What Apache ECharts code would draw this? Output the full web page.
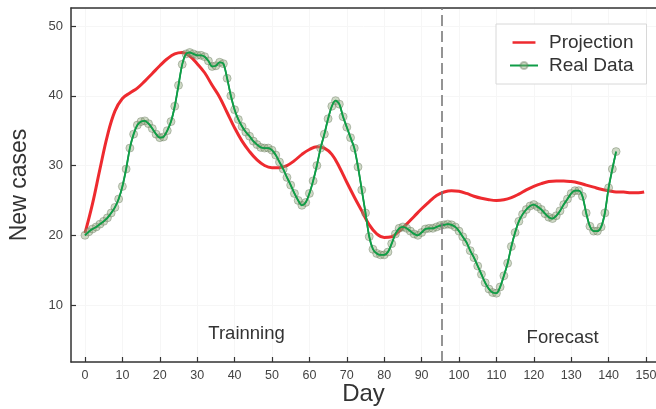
<!DOCTYPE html>
<html>
<head>
<meta charset="utf-8">
<script src="https://cdn.jsdelivr.net/npm/echarts@6/dist/echarts.min.js"></script>
<style>
html,body{margin:0;padding:0;background:#fff;}
#chart{width:656px;height:409px;}
</style>
</head>
<body>
<div id="chart"></div>
<script>
// Real data: one value per day, starting at day 0
var realValues = [
  20.0, 20.5, 20.9, 21.2, 21.6, 22.0, 22.5, 23.2, 24.0, 25.2,
  27.0, 29.5, 32.5, 34.5, 35.8, 36.3, 36.4, 36.0, 35.3, 34.5,
  34.0, 34.1, 35.0, 36.3, 38.5, 41.5, 44.5, 46.0, 46.2, 46.0,
  45.8, 45.8, 45.6, 45.0, 44.2, 44.3, 44.8, 44.6, 42.5, 40.0,
  38.0, 36.6, 35.6, 34.8, 34.2, 33.5, 33.0, 32.6, 32.5, 32.5,
  32.2, 31.5, 30.5, 29.5, 28.3, 27.2, 26.0, 25.0, 24.3, 24.7,
  26.0, 27.8, 30.0, 32.5, 34.5, 36.7, 38.5, 39.3, 38.8, 37.0,
  35.5, 34.0, 32.5, 29.8, 26.5, 23.2, 19.8, 18.0, 17.4, 17.2,
  17.2, 17.6, 18.8, 20.2, 21.0, 21.2, 21.0, 20.6, 20.2, 20.0,
  20.4, 20.9, 21.0, 21.0, 21.2, 21.4, 21.5, 21.6, 21.5, 21.2,
  20.6, 19.8, 19.0, 17.8, 16.8, 15.6, 14.4, 13.2, 12.3, 11.8,
  11.7, 12.6, 14.2, 16.0, 18.4, 20.4, 22.0, 23.0, 23.7, 24.2,
  24.4, 24.1, 23.7, 23.1, 22.6, 22.4, 22.8, 23.5, 24.4, 25.2,
  26.0, 26.4, 26.4, 25.6, 23.2, 21.3, 20.6, 20.6, 21.2, 23.2,
  26.8, 29.5, 32.0
];
var realStartDay = 0;

// Projection curve
var projDays = [0,2,4,6,8,10,12,14,16,18,20,22,24,26,28,30,32,34,36,38,40,42,44,46,48,50,52,54,56,58,60,62,64,66,68,70,72,74,76,78,80,82,84,86,88,90,92,94,96,98,100,102,104,106,108,110,112,114,116,118,120,122,124,126,128,130,132,134,136,138,140,142,144,146,148,149.5];
var projValues = [20.3,24.5,29.5,34.3,37.8,39.6,40.4,41.1,42.1,43.2,44.3,45.3,46.0,46.2,45.7,44.6,43.3,41.5,39.8,37.6,35.4,33.5,32.0,30.8,30.0,29.7,29.7,30.0,30.7,31.6,32.3,32.7,32.5,31.6,29.8,27.6,25.5,23.5,21.5,20.2,19.7,19.8,20.6,21.6,22.7,23.8,24.8,25.7,26.2,26.4,26.3,26.0,25.6,25.3,25.1,25.0,25.1,25.4,25.9,26.5,27.0,27.4,27.7,27.8,27.8,27.7,27.5,27.2,26.9,26.6,26.4,26.2,26.2,26.1,26.1,26.2];

var seriesNames = ['Projection', 'Real Data'];
var xLabel = 'Day';
var yLabel = 'New cases';
var splitDay = 95.5;
var phaseLabels = ['Trainning', 'Forecast'];

var realData = realValues.map(function (v, i) { return [realStartDay + i, v]; });
var projData = projDays.map(function (d, i) { return [d, projValues[i]]; });

var FONT = '"Liberation Sans", Arial, sans-serif';
var chart = echarts.init(document.getElementById('chart'), null, {renderer: 'canvas'});

var option = {
  animation: false,
  backgroundColor: '#ffffff',
  textStyle: {fontFamily: FONT},
  grid: {left: 71, right: 0, top: 8, bottom: 47, outerBoundsMode: 'none', containLabel: false},
  legend: {
    data: [
      {name: seriesNames[0], icon: 'path://M0,0L28,0L28,0.01Z M0,4L28,4L28,7L0,7Z M0,11L28,11L28,10.99Z'},
      {name: seriesNames[1]}
    ],
    orient: 'vertical',
    left: 496,
    top: 24,
    padding: [9, 13, 9, 13],
    itemGap: 4,
    itemWidth: 28,
    itemHeight: 9,
    backgroundColor: '#ffffff',
    borderColor: '#d8d8d8',
    borderWidth: 1,
    borderRadius: 0,
    textStyle: {fontSize: 19, color: '#333', fontFamily: FONT, padding: [0, 0, 0, 6]}
  },
  xAxis: [{
    type: 'value',
    min: -3.74,
    max: 152.67,
    splitNumber: 15,
    name: xLabel,
    nameLocation: 'middle',
    nameGap: 32,
    nameMoveOverlap: false,
    nameTextStyle: {fontSize: 24, color: '#333', verticalAlign: 'middle'},
    axisLine: {show: true, onZero: false, lineStyle: {color: '#333', width: 1.5}},
    axisTick: {show: true, inside: true, length: 5, lineStyle: {color: '#333', width: 1.2}},
    axisLabel: {color: '#444', fontSize: 12.5, margin: 7, showMinLabel: false, showMaxLabel: false},
    splitLine: {show: true, lineStyle: {color: '#f6f6f6', width: 1}}
  }, {
    type: 'value',
    position: 'top',
    min: -3.74,
    max: 152.67,
    axisLine: {show: true, onZero: false, lineStyle: {color: '#333', width: 1.5}},
    axisTick: {show: false},
    axisLabel: {show: false},
    splitLine: {show: false}
  }],
  yAxis: {
    type: 'value',
    min: 1.84,
    max: 52.58,
    splitNumber: 5,
    name: yLabel,
    nameLocation: 'middle',
    nameGap: 51,
    nameMoveOverlap: false,
    nameTextStyle: {fontSize: 23, color: '#333', verticalAlign: 'middle'},
    axisLine: {show: true, onZero: false, lineStyle: {color: '#333', width: 1.5}},
    axisTick: {show: true, inside: true, length: 5, lineStyle: {color: '#333', width: 1.2}},
    axisLabel: {color: '#444', fontSize: 13, margin: 8, showMinLabel: false, showMaxLabel: false},
    splitLine: {show: true, lineStyle: {color: '#f6f6f6', width: 1}}
  },
  series: [
    {
      name: seriesNames[0],
      type: 'line',
      data: projData,
      smooth: 0.4,
      showSymbol: false,
      symbol: 'none',
      z: 2,
      lineStyle: {color: '#ee2a2f', width: 3},
      itemStyle: {color: '#ee2a2f'},
      markLine: {
        silent: true,
        symbol: 'none',
        label: {show: false},
        lineStyle: {color: '#7a7a7a', width: 1.6, type: [11, 5]},
        data: [{xAxis: splitDay}]
      },
      markPoint: {
        silent: true,
        symbol: 'circle',
        symbolSize: 1,
        itemStyle: {color: 'rgba(0,0,0,0)'},
        label: {show: true, position: 'inside', color: '#333', fontSize: 18.5, fontFamily: FONT},
        data: [
          {coord: [43.2, 5.9], value: phaseLabels[0], label: {formatter: phaseLabels[0]}},
          {coord: [127.7, 5.3], value: phaseLabels[1], label: {formatter: phaseLabels[1]}}
        ]
      }
    },
    {
      name: seriesNames[1],
      type: 'line',
      data: realData,
      smooth: 0.3,
      symbol: 'circle',
      symbolSize: 8,
      showSymbol: true,
      z: 3,
      lineStyle: {color: '#0f9d47', width: 1.6},
      itemStyle: {color: 'rgba(140,165,120,0.42)', borderColor: 'rgba(100,115,90,0.4)', borderWidth: 1}
    },
    {
      name: 'overlay',
      type: 'line',
      data: realData,
      smooth: 0.3,
      showSymbol: false,
      symbol: 'none',
      z: 4,
      silent: true,
      lineStyle: {color: '#0f9d47', width: 1.8}
    }
  ]
};
chart.setOption(option);
</script>
</body>
</html>
